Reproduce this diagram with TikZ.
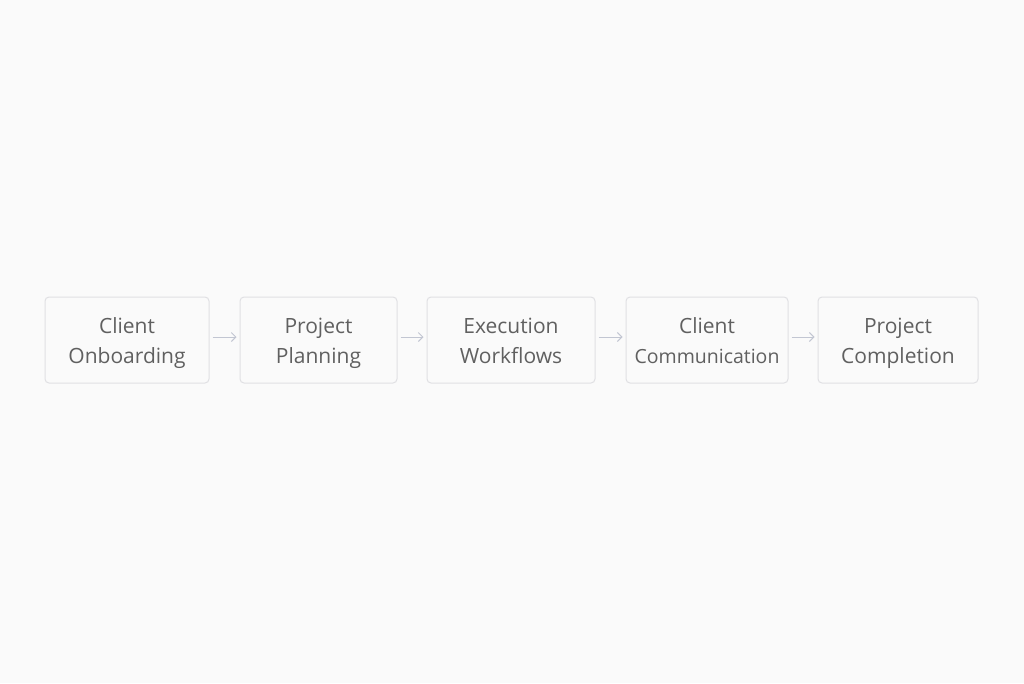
\documentclass[tikz,border=0pt]{standalone}
\usepackage{fontspec}
\setmainfont{Open Sans}
\usetikzlibrary{arrows.meta}
\definecolor{bgc}{HTML}{FAFAFA}
\definecolor{boxline}{HTML}{E0E0E3}
\definecolor{txt}{HTML}{606060}
\definecolor{arr}{HTML}{C2C6D2}
\newcommand{\topstrut}{\rule{0pt}{25pt}}
\begin{document}
\begin{tikzpicture}[x=1pt,y=-1pt,
  stepbox/.style={draw=boxline, line width=1pt, rounded corners=4pt, fill=bgc,
    minimum height=86pt, align=center, text=txt, inner sep=0pt,
    font=\fontsize{21}{30}\selectfont},
  flowarrow/.style={draw=arr, line width=1pt, -{Straight Barb[length=4.5pt,width=9pt]}}]
\fill[bgc] (0,0) rectangle (1024,683);
\useasboundingbox (0,0) rectangle (1024,683);
\node[stepbox, minimum width=164pt] (a) at (127,340) {\topstrut Client\\Onboarding\strut};
\node[stepbox, minimum width=157pt] (b) at (318.5,340) {\topstrut Project\\Planning\strut};
\node[stepbox, minimum width=168pt] (c) at (511,340) {\topstrut Execution\\Workflows\strut};
\node[stepbox, minimum width=162pt] (d) at (707,340) {\topstrut Client\\{\fontsize{19.5}{30}\selectfont Communication}\strut};
\node[stepbox, minimum width=160pt] (e) at (898,340) {\topstrut Project\\Completion\strut};
\draw[flowarrow] ([xshift=3pt,yshift=3pt]a.east) -- ([xshift=-3pt,yshift=3pt]b.west);
\draw[flowarrow] ([xshift=3pt,yshift=3pt]b.east) -- ([xshift=-3pt,yshift=3pt]c.west);
\draw[flowarrow] ([xshift=3pt,yshift=3pt]c.east) -- ([xshift=-3pt,yshift=3pt]d.west);
\draw[flowarrow] ([xshift=3pt,yshift=3pt]d.east) -- ([xshift=-3pt,yshift=3pt]e.west);
\end{tikzpicture}
\end{document}
